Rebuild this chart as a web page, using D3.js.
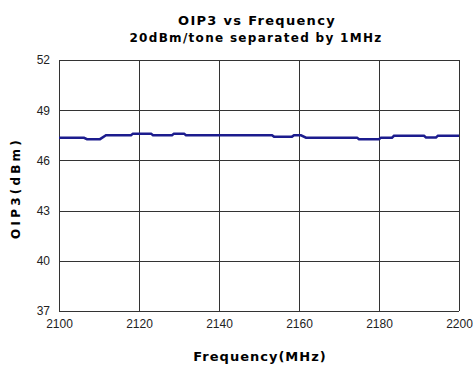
<!DOCTYPE html>
<html><head><meta charset="utf-8">
<script src="https://cdn.jsdelivr.net/npm/d3@7"></script>
<style>body{margin:0;background:#fff}svg{display:block}</style>
</head><body>
<script>
const freq = [2100,2106.25,2107,2110.25,2111.75,2118,2118.5,2123,2123.5,2128.25,2128.75,2131.25,2131.75,2153.25,2153.75,2158.25,2158.75,2160.5,2161.75,2174.5,2175,2180,2180.5,2183.25,2183.75,2191.25,2191.75,2194.25,2194.75,2200];
const oip3 = [47.35,47.35,47.27,47.27,47.5,47.5,47.6,47.6,47.5,47.5,47.6,47.6,47.5,47.5,47.42,47.42,47.5,47.5,47.36,47.36,47.26,47.26,47.36,47.36,47.47,47.47,47.37,47.37,47.48,47.48];
const xTicks = [2100,2120,2140,2160,2180,2200];
const yTicks = [37,40,43,46,49,52];

const W=473,H=367;
const m={l:59,r:14,t:60,b:56};
const svg=d3.select("body").append("svg").attr("width",W).attr("height",H);
const x=d3.scaleLinear().domain([2100,2200]).range([m.l,W-m.r]);
const y=d3.scaleLinear().domain([37,52]).range([H-m.b,m.t]);

const g=svg.append("g");
g.selectAll(".vg").data(xTicks).join("line")
 .attr("x1",d=>Math.round(x(d))+0.5).attr("x2",d=>Math.round(x(d))+0.5)
 .attr("y1",y(52)).attr("y2",y(37)).attr("stroke","#333").attr("stroke-width",1);
g.selectAll(".hg").data(yTicks).join("line")
 .attr("y1",d=>Math.round(y(d))+0.5).attr("y2",d=>Math.round(y(d))+0.5)
 .attr("x1",x(2100)).attr("x2",x(2200)).attr("stroke","#333").attr("stroke-width",1);

const xAxis=d3.axisBottom(x).tickValues(xTicks).tickSize(0).tickPadding(8).tickFormat(d3.format("d"));
const ga=svg.append("g").attr("transform",`translate(0,${y(37)})`).call(xAxis);
ga.select(".domain").remove();
ga.selectAll("text").attr("font-family","Liberation Sans, Arial, sans-serif").attr("font-size",12).attr("fill","#222");
const yAxis=d3.axisLeft(y).tickValues(yTicks).tickSize(0).tickPadding(9);
const gy=svg.append("g").attr("transform",`translate(${x(2100)},0)`).call(yAxis);
gy.select(".domain").remove();
gy.selectAll("text").attr("font-family","Liberation Sans, Arial, sans-serif").attr("font-size",12).attr("fill","#222");

const data=freq.map((f,i)=>[f,oip3[i]]);
svg.append("path").datum(data)
 .attr("d",d3.line().x(d=>x(d[0])).y(d=>y(d[1])))
 .attr("fill","none").attr("stroke","#1c1c8e").attr("stroke-width",2.5);

const tf="DejaVu Sans, sans-serif";
svg.append("text").attr("x",257).attr("y",25).attr("text-anchor","middle")
 .attr("font-family",tf).attr("font-weight","bold").attr("font-size",13).attr("letter-spacing",1.3).text("OIP3 vs Frequency");
svg.append("text").attr("x",256).attr("y",42).attr("text-anchor","middle")
 .attr("font-family",tf).attr("font-weight","bold").attr("font-size",12).attr("letter-spacing",1.3).text("20dBm/tone separated by 1MHz");
svg.append("text").attr("x",260).attr("y",361).attr("text-anchor","middle")
 .attr("font-family",tf).attr("font-weight","bold").attr("font-size",13).attr("letter-spacing",1.0).text("Frequency(MHz)");
svg.append("text").attr("transform","translate(20,188) rotate(-90)").attr("text-anchor","middle")
 .attr("font-family",tf).attr("font-weight","bold").attr("font-size",12).attr("letter-spacing",3.2).text("OIP3(dBm)");
</script>
</body></html>
